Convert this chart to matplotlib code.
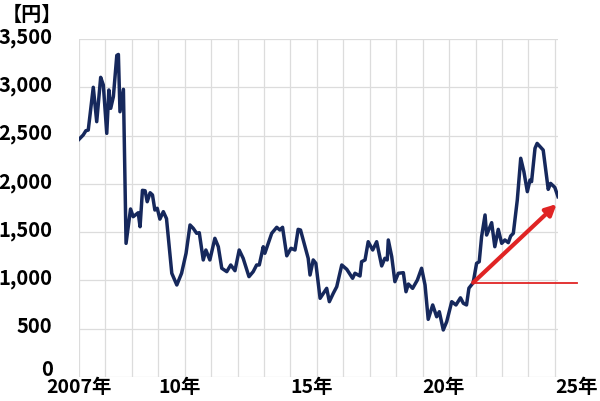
import matplotlib.pyplot as plt
import matplotlib.transforms as mtransforms
import numpy as np

plt.rcParams['font.family'] = ['Noto Sans CJK JP', 'DejaVu Sans']

# data (decimal year, price in yen)
years = [2007.00, 2007.16, 2007.26, 2007.35, 2007.54, 2007.67, 2007.82, 2007.92,
         2007.97, 2008.05, 2008.13, 2008.20, 2008.30, 2008.43, 2008.49, 2008.55,
         2008.68, 2008.78, 2008.95, 2009.05, 2009.24, 2009.31, 2009.40, 2009.50,
         2009.58, 2009.69, 2009.78, 2009.87, 2009.96, 2010.06, 2010.19, 2010.31,
         2010.51, 2010.70, 2010.88, 2011.05, 2011.20, 2011.32, 2011.45, 2011.55,
         2011.70, 2011.80, 2011.95, 2012.14, 2012.27, 2012.40, 2012.59, 2012.74,
         2012.90, 2013.06, 2013.21, 2013.43, 2013.59, 2013.72, 2013.82, 2013.97,
         2014.03, 2014.29, 2014.48, 2014.60, 2014.70, 2014.86, 2015.02, 2015.17,
         2015.29, 2015.38, 2015.55, 2015.67, 2015.74, 2015.86, 2015.96, 2016.12,
         2016.37, 2016.47, 2016.62, 2016.75, 2016.94, 2017.13, 2017.35, 2017.44,
         2017.63, 2017.69, 2017.82, 2017.94, 2018.11, 2018.26, 2018.45, 2018.57,
         2018.66, 2018.70, 2018.83, 2018.95, 2019.08, 2019.27, 2019.37, 2019.46,
         2019.62, 2019.80, 2019.96, 2020.09, 2020.21, 2020.38, 2020.53, 2020.63,
         2020.78, 2020.91, 2021.10, 2021.26, 2021.43, 2021.54, 2021.66, 2021.75,
         2021.91, 2022.04, 2022.14, 2022.23, 2022.36, 2022.42, 2022.61, 2022.73,
         2022.86, 2022.99, 2023.11, 2023.24, 2023.33, 2023.43, 2023.58, 2023.71,
         2023.83, 2023.96, 2024.06, 2024.12, 2024.25, 2024.33, 2024.56, 2024.75,
         2024.84, 2025.00, 2025.12]
price = [2461, 2506, 2550, 2557, 3000, 2644, 3103, 3024,
         2834, 2523, 2972, 2782, 2903, 3330, 3340, 2747,
         2979, 1384, 1740, 1660, 1701, 1556, 1933, 1929,
         1815, 1908, 1885, 1729, 1747, 1635, 1712, 1640,
         1074, 953, 1074, 1281, 1574, 1540, 1488, 1494,
         1212, 1315, 1212, 1436, 1349, 1126, 1091, 1160,
         1101, 1315, 1229, 1039, 1091, 1160, 1160, 1349,
         1281, 1488, 1550, 1522, 1550, 1255, 1333, 1315,
         1529, 1522, 1349, 1229, 1056, 1212, 1177, 815,
         918, 780, 867, 935, 1160, 1115, 1022, 1074,
         1046, 1194, 1212, 1401, 1315, 1401, 1150, 1229,
         1212, 1419, 1246, 987, 1074, 1080, 883, 963,
         918, 1004, 1126, 953, 597, 746, 624, 676,
         487, 573, 780, 746, 820, 763, 746, 920,
         975, 1177, 1194, 1453, 1678, 1470, 1598, 1349,
         1529, 1384, 1419, 1391, 1460, 1488, 1833, 2265,
         2126, 1919, 2040, 2023, 2368, 2419, 2350, 1943,
         2005, 1963, 1867]

year_labels = {2007: '2007年', 2010: '10年', 2015: '15年', 2020: '20年', 2025: '25年'}
arrow_start = (2021.91, 977)
arrow_end = (2025.07, 1791)
flat_end = 2025.82

fig = plt.figure(figsize=(6, 4.01), dpi=100)
ax = fig.add_axes([79/600, 1-377/401, (558-79)/600, (377-39)/401])

ax.plot(years, price, color='#16285c', lw=2.5, zorder=3)

ax.set_xlim(2007, 2025.12)
ax.set_ylim(0, 3500)
ax.set_xticks(np.arange(2007, 2026))
ax.set_xticklabels([year_labels.get(y, '') for y in range(2007, 2026)])
ax.set_yticks(np.arange(0, 3501, 500))
ax.set_yticklabels([f'{v:,}' for v in range(0, 3501, 500)])
ax.grid(True, color='#dcdcdc', lw=0.9)
ax.set_axisbelow(True)
for s in ax.spines.values():
    s.set_visible(False)
ax.tick_params(length=0)
ax.tick_params(axis='y', pad=19, labelsize=14.5)
ax.tick_params(axis='x', pad=1, labelsize=14)

# nudge y labels up a little, like the original; the 0 a bit more
for t in ax.get_yticklabels():
    t.set_fontweight('bold')
    up = 10 if t.get_text() == '0' else 4
    shift = mtransforms.ScaledTranslation(0, up/100, fig.dpi_scale_trans)
    t.set_transform(t.get_transform() + shift)
for t in ax.get_xticklabels():
    t.set_fontweight('bold')
    if t.get_text() and t.get_text() != '2007年':
        t.set_ha('left')

# red trend arrow and flat reference line
ax.plot([arrow_start[0], flat_end], [arrow_start[1], arrow_start[1]],
        color='#e02424', lw=1.3, clip_on=False, zorder=4)
ax.annotate('', xy=arrow_end, xytext=arrow_start,
            arrowprops=dict(arrowstyle='-|>', color='#e02424', lw=3,
                            mutation_scale=16, shrinkA=0, shrinkB=0),
            annotation_clip=False, zorder=5)

fig.text(0.003, 1-14/401, '【円】', ha='left', va='center',
         fontsize=14.5, fontweight='bold')

fig.savefig('out.png', dpi=100)
